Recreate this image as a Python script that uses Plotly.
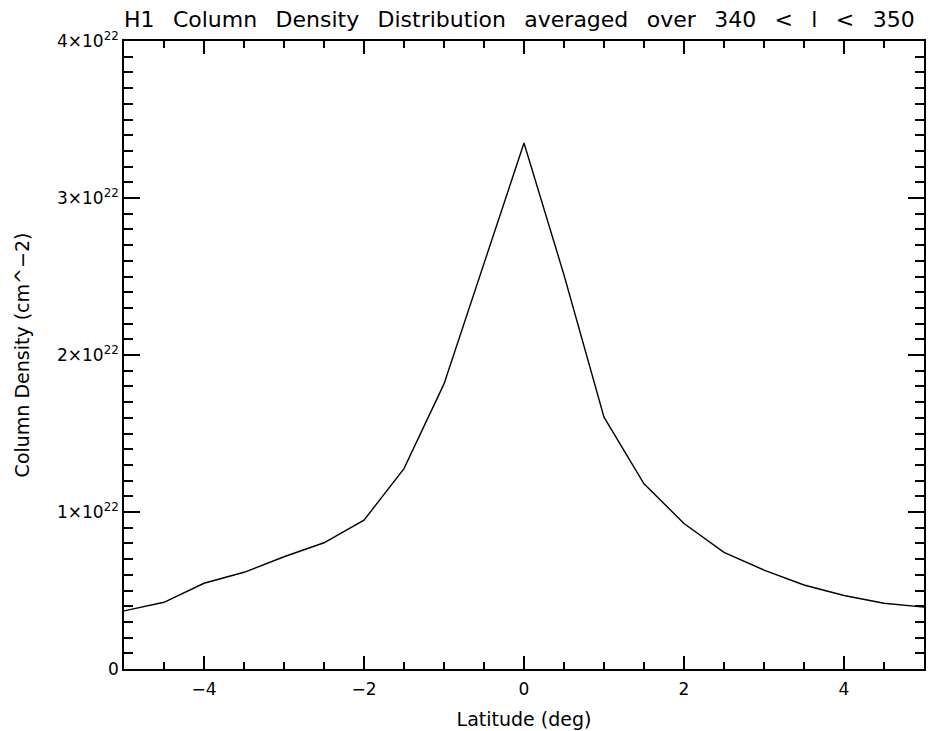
import plotly.graph_objects as go

latitude = [-5.0, -4.5, -4.0, -3.5, -3.0, -2.5, -2.0, -1.5, -1.0, -0.5, 0.0,
            0.5, 1.0, 1.5, 2.0, 2.5, 3.0, 3.5, 4.0, 4.5, 5.0]
column_density = [0.370e22, 0.425e22, 0.546e22, 0.616e22, 0.715e22, 0.804e22,
                  0.948e22, 1.276e22, 1.816e22, 2.590e22, 3.350e22, 2.510e22,
                  1.604e22, 1.180e22, 0.927e22, 0.743e22, 0.630e22, 0.535e22,
                  0.468e22, 0.419e22, 0.394e22]

x_tickvals = [-4, -2, 0, 2, 4]
x_ticktext = ["\u22124", "\u22122", "0", "2", "4"]
y_tickvals = [0, 1e22, 2e22, 3e22, 4e22]
y_ticktext = ["0", "1\u00d710<sup>22</sup>", "2\u00d710<sup>22</sup>",
              "3\u00d710<sup>22</sup>", "4\u00d710<sup>22</sup>"]

FONT = "DejaVu Sans"
GAP = "  \u2009"
title_words = ["H1", "Column", "Density", "Distribution", "averaged", "over",
               "340", "<", "l", "<", "350"]

fig = go.Figure()
fig.add_trace(go.Scatter(x=latitude, y=column_density, mode="lines",
                         line=dict(color="black", width=1.4),
                         showlegend=False, hoverinfo="skip"))

fig.update_layout(
    width=930, height=731,
    margin=dict(l=124, r=4, t=41, b=60),
    paper_bgcolor="white", plot_bgcolor="white",
    font=dict(family=FONT, size=17, color="black"),
    title=dict(text=GAP.join(title_words).replace("<", "&lt;"),
               x=0.0, xref="paper", xanchor="left",
               y=1 - 19 / 731, yref="container", yanchor="middle",
               font=dict(family=FONT, size=22, color="black")),
)

fig.update_xaxes(
    range=[-5, 5], showgrid=False, zeroline=False,
    showline=True, linecolor="black", linewidth=1.6, mirror="allticks",
    ticks="inside", ticklen=13, tickwidth=1.5, tickcolor="black",
    tickvals=x_tickvals, ticktext=x_ticktext, ticklabelstandoff=4,
    tickfont=dict(family=FONT, size=17, color="black"),
    minor=dict(ticks="inside", dtick=0.5, tick0=0, ticklen=7, tickwidth=1.5,
               tickcolor="black", showgrid=False),
    title=dict(text="Latitude (deg)", standoff=14,
               font=dict(family=FONT, size=19, color="black")),
)
fig.update_yaxes(
    range=[0, 4e22], showgrid=False, zeroline=False,
    showline=True, linecolor="black", linewidth=1.6, mirror="allticks",
    ticks="inside", ticklen=16, tickwidth=1.5, tickcolor="black",
    tickvals=y_tickvals, ticktext=y_ticktext,
    tickfont=dict(family=FONT, size=17, color="black"),
    minor=dict(ticks="inside", dtick=0.1e22, tick0=0, ticklen=9, tickwidth=1.5,
               tickcolor="black", showgrid=False),
    title=dict(text="Column Density (cm^\u22122)", standoff=22,
               font=dict(family=FONT, size=19, color="black")),
)

fig.write_html("out.html")
